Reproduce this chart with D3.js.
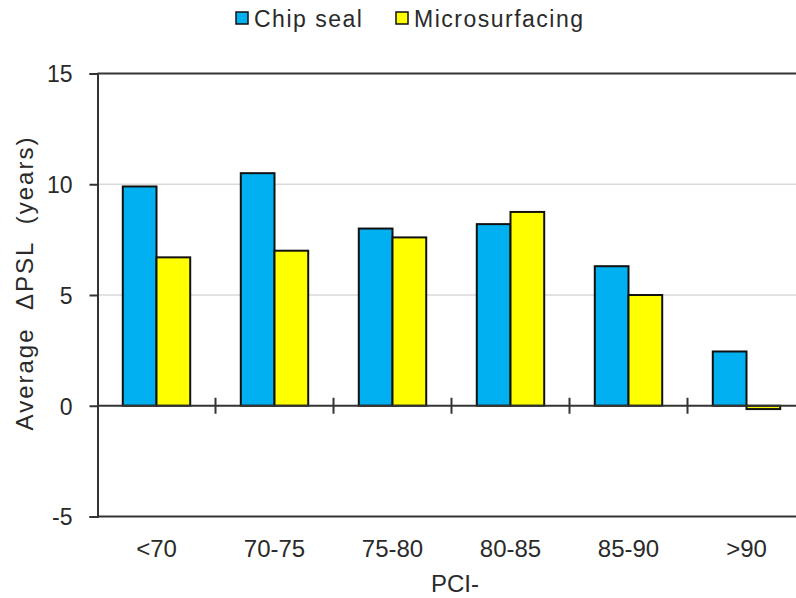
<!DOCTYPE html>
<html>
<head>
<meta charset="utf-8">
<script src="https://cdn.jsdelivr.net/npm/d3@7/dist/d3.min.js"></script>
<style>
  html, body { margin: 0; padding: 0; background: #fff; overflow: hidden; }
  svg { display: block; font-family: "Liberation Sans", Arial, sans-serif; }
</style>
</head>
<body>
<svg id="chart" width="796" height="598"></svg>
<script>
// PCI ranges and average change in pavement service life per treatment
const categories = ["<70", "70-75", "75-80", "80-85", "85-90", ">90"];
const seriesNames = ["Chip seal", "Microsurfacing"];
const chipSeal = [9.9, 10.5, 8.0, 8.2, 6.3, 2.45];
const microsurfacing = [6.7, 7.0, 7.6, 8.75, 5.0, -0.15];
const seriesColors = ["#00B0F0", "#FFFF00"];
const yTicks = [-5, 0, 5, 10, 15];
const yTitle = "Average  \u0394PSL  (years)";
const xTitle = "PCI-";

const svg = d3.select("#chart");
const plot = { left: 97.5, right: 805.5, top: 73.5, bottom: 516.5 };

const x = d3.scaleBand().domain(categories).range([plot.left, plot.right]).padding(0);
const y = d3.scaleLinear().domain([-5, 15]).range([plot.bottom, plot.top]);

// bars take 2/3.5 of each band (150% gap)
const barW = x.bandwidth() / 3.5;
const groupOff = x.bandwidth() * 0.75 / 3.5;

const axisColor = "#333";
const textColor = "#2a2a2a";

// horizontal gridlines
svg.append("g").selectAll("line")
  .data(yTicks.filter(t => t !== 0 && t !== -5 && t !== 15))
  .join("line")
  .attr("x1", plot.left).attr("x2", plot.right)
  .attr("y1", d => y(d)).attr("y2", d => y(d))
  .attr("stroke", "#d9d9d9").attr("stroke-width", 1.5);

// plot frame top and bottom
[15, -5].forEach(v => {
  svg.append("line").attr("x1", plot.left).attr("x2", plot.right)
    .attr("y1", y(v)).attr("y2", y(v))
    .attr("stroke", axisColor).attr("stroke-width", 2);
});

// bars
const series = [chipSeal, microsurfacing];
series.forEach((vals, si) => {
  svg.append("g").selectAll("rect")
    .data(vals.map((v, i) => ({ c: categories[i], v })))
    .join("rect")
    .attr("x", d => x(d.c) + groupOff + si * barW)
    .attr("width", barW)
    .attr("y", d => y(Math.max(0, d.v)))
    .attr("height", d => Math.abs(y(d.v) - y(0)))
    .attr("fill", seriesColors[si])
    .attr("stroke", "#111").attr("stroke-width", 2);
});

// y axis
const yAxis = d3.axisLeft(y).tickValues(yTicks).tickSize(8).tickFormat(d => String(d));
const gy = svg.append("g").attr("transform", `translate(${plot.left},0)`).call(yAxis);
gy.select(".domain").attr("stroke", axisColor).attr("stroke-width", 2);
gy.selectAll(".tick line").attr("stroke", axisColor).attr("stroke-width", 2);
gy.selectAll(".tick text").attr("x", -25).attr("dy", "0.36em")
  .attr("fill", textColor).style("font-size", "23px");

// zero line with category boundary ticks crossing it
svg.append("line").attr("x1", plot.left).attr("x2", plot.right)
  .attr("y1", y(0)).attr("y2", y(0)).attr("stroke", axisColor).attr("stroke-width", 2);
svg.append("g").selectAll("line")
  .data(categories.slice(1))
  .join("line")
  .attr("x1", d => x(d)).attr("x2", d => x(d))
  .attr("y1", y(0) - 8).attr("y2", y(0) + 8)
  .attr("stroke", axisColor).attr("stroke-width", 2);

// category labels
svg.append("g").selectAll("text")
  .data(categories)
  .join("text")
  .attr("x", d => x(d) + x.bandwidth() / 2)
  .attr("y", 557)
  .attr("text-anchor", "middle")
  .attr("fill", textColor)
  .style("font-size", "24px")
  .text(d => d);

// axis titles
svg.append("text")
  .attr("x", 455).attr("y", 592)
  .attr("text-anchor", "middle").attr("fill", textColor)
  .style("font-size", "24px")
  .text(xTitle);

svg.append("text")
  .attr("transform", "translate(33,283) rotate(-90)")
  .attr("text-anchor", "middle").attr("fill", textColor)
  .style("font-size", "24px").style("letter-spacing", "2px")
  .style("white-space", "pre")
  .text(yTitle);

// legend
const legendX = [236, 396];
seriesNames.forEach((name, i) => {
  svg.append("rect")
    .attr("x", legendX[i]).attr("y", 12).attr("width", 12).attr("height", 12)
    .attr("fill", seriesColors[i]).attr("stroke", "#111").attr("stroke-width", 1.5);
  svg.append("text")
    .attr("x", legendX[i] + 18).attr("y", 27)
    .attr("fill", textColor)
    .style("font-size", "23px").style("letter-spacing", "1.5px")
    .text(name);
});
</script>
</body>
</html>
